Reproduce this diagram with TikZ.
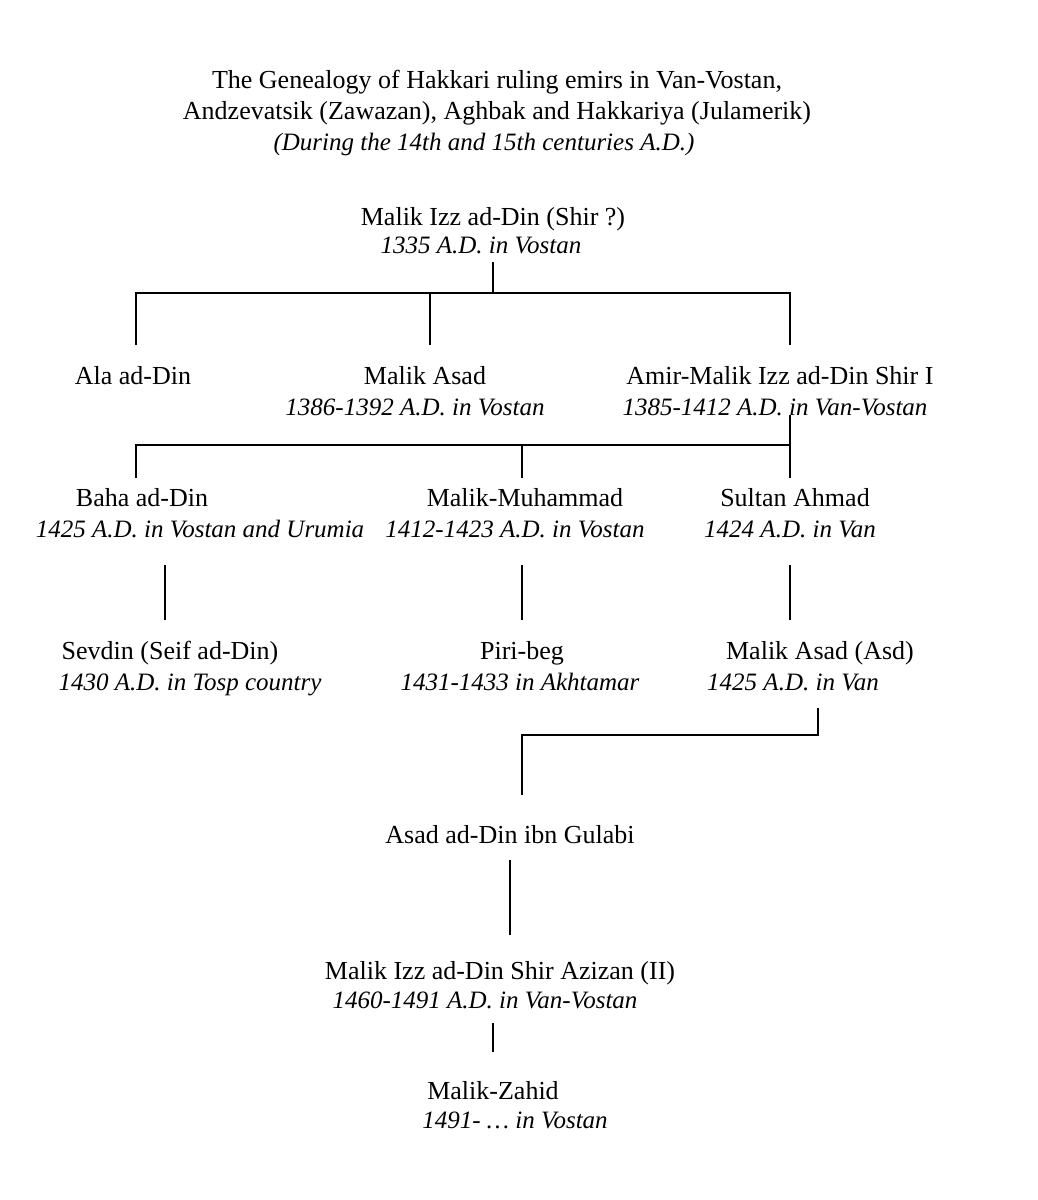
\documentclass[tikz,border=0pt]{standalone}
\usepackage{fontspec}
\setmainfont{Liberation Serif}
\begin{document}
\begin{tikzpicture}[x=1pt,y=-1pt,
  t/.style={inner sep=0pt,anchor=base,font=\fontsize{26}{30}\selectfont},
  it/.style={t,font=\fontsize{25}{30}\selectfont\itshape},
  ln/.style={line width=1.6pt}]
\useasboundingbox (0,0) rectangle (1038,1200);
\node[t] (t1) at (497,88) {The Genealogy of Hakkari ruling emirs in Van-Vostan,};
\node[t] (t2) at (497,119) {Andzevatsik (Zawazan), Aghbak and Hakkariya (Julamerik)};
\node[it] (t3) at (484,150) {(During the 14th and 15th centuries A.D.)};
\node[t] (r) at (493,225) {Malik Izz ad-Din (Shir ?)};
\node[it] (ri) at (481,253) {1335 A.D. in Vostan};
\node[t] (a1) at (133,384) {Ala ad-Din};
\node[t] (a2) at (425,384) {Malik Asad};
\node[it] (a2i) at (415,415) {1386-1392 A.D. in Vostan};
\node[t] (a3) at (780,384) {Amir-Malik Izz ad-Din Shir I};
\node[it] (a3i) at (775,415) {1385-1412 A.D. in Van-Vostan};
\node[t] (b1) at (142,506) {Baha ad-Din};
\node[it] (b1i) at (200,537) {1425 A.D. in Vostan and Urumia};
\node[t] (b2) at (525,506) {Malik-Muhammad};
\node[it] (b2i) at (515,537) {1412-1423 A.D. in Vostan};
\node[t] (b3) at (795,506) {Sultan Ahmad};
\node[it] (b3i) at (790,537) {1424 A.D. in Van};
\node[t] (c1) at (170,659) {Sevdin (Seif ad-Din)};
\node[it] (c1i) at (190,690) {1430 A.D. in Tosp country};
\node[t] (c2) at (522,659) {Piri-beg};
\node[it] (c2i) at (520,690) {1431-1433 in Akhtamar};
\node[t] (c3) at (820,659) {Malik Asad (Asd)};
\node[it] (c3i) at (793,690) {1425 A.D. in Van};
\node[t] (d) at (510,843) {Asad ad-Din ibn Gulabi};
\node[t] (e) at (500,979) {Malik Izz ad-Din Shir Azizan (II)};
\node[it] (ei) at (485,1008) {1460-1491 A.D. in Van-Vostan};
\node[t] (f) at (493,1099) {Malik-Zahid};
\node[it] (fi) at (515,1128) {1491- \dots\ in Vostan};
\coordinate (j1) at (493,293);
\draw[ln] (493,262) -- (j1);
\draw[ln] (136,345) -- (136,293) -- (790,293) -- (790,345);
\draw[ln] (430,293) -- (430,345);
\draw[ln] (790,415) -- (790,478);
\draw[ln] (136,478) -- (136,445) -- (790,445);
\draw[ln] (522,445) -- (522,478);
\draw[ln] (165,565) -- (165,620);
\draw[ln] (522,565) -- (522,620);
\draw[ln] (790,565) -- (790,620);
\draw[ln] (818,708) -- (818,735) -- (522,735) -- (522,795);
\draw[ln] (510,860) -- (510,935);
\draw[ln] (493,1023) -- (493,1052);
\end{tikzpicture}
\end{document}
